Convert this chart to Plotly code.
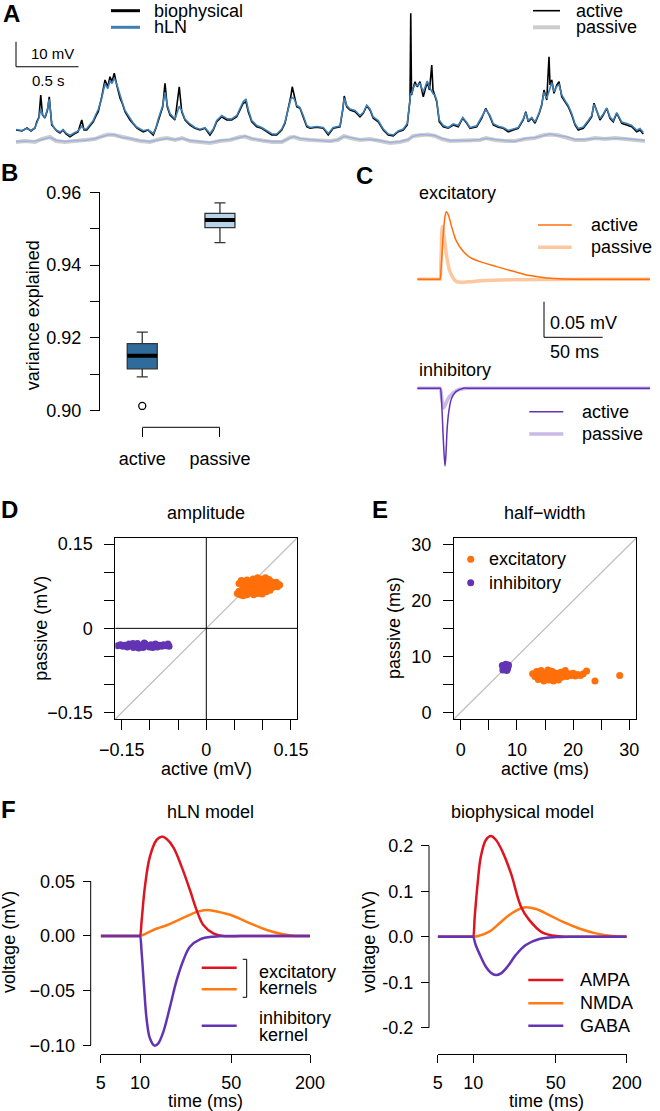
import math
import plotly.graph_objects as go

W, H = 660, 1111
FONT = "Liberation Sans, Arial, Helvetica, sans-serif"


def px(x):
    return x / W


def py(y):
    return 1 - y / H


# ---------------- Panel A : voltage traces (t in s, v in mV) ----------------
a_time = [
    0.000, 0.048, 0.088, 0.120, 0.152, 0.166, 0.184, 0.198, 0.212, 0.232,
    0.252, 0.266, 0.286, 0.304, 0.326, 0.352, 0.376, 0.400, 0.432, 0.464,
    0.496, 0.526, 0.544, 0.566, 0.592, 0.618, 0.640, 0.658, 0.686, 0.712,
    0.734, 0.752, 0.768, 0.786, 0.806, 0.832, 0.852, 0.872, 0.912, 0.936,
    0.966, 0.992, 1.018, 1.056, 1.098, 1.120, 1.138, 1.174, 1.192, 1.210,
    1.232, 1.272, 1.306, 1.326, 1.352, 1.392, 1.432, 1.472, 1.512, 1.552,
    1.578, 1.606, 1.646, 1.686, 1.726, 1.766, 1.792, 1.818, 1.840, 1.858,
    1.886, 1.926, 1.966, 2.006, 2.046, 2.086, 2.126, 2.152, 2.178, 2.198,
    2.210, 2.224, 2.246, 2.272, 2.298, 2.326, 2.352, 2.406, 2.458, 2.498,
    2.538, 2.592, 2.614, 2.626, 2.646, 2.672, 2.712, 2.752, 2.778, 2.806,
    2.832, 2.858, 2.898, 2.938, 2.978, 3.018, 3.058, 3.098, 3.130, 3.152,
    3.158, 3.164, 3.174, 3.192, 3.210, 3.232, 3.258, 3.290, 3.308, 3.326,
    3.336, 3.352, 3.366, 3.386, 3.418, 3.458, 3.498, 3.538, 3.574, 3.606,
    3.632, 3.686, 3.726, 3.758, 3.792, 3.818, 3.858, 3.898, 3.938, 3.978,
    4.018, 4.058, 4.078, 4.098, 4.126, 4.152, 4.186, 4.206, 4.224, 4.246,
    4.264, 4.272, 4.286, 4.304, 4.326, 4.344, 4.366, 4.392, 4.418, 4.446,
    4.472, 4.498, 4.538, 4.578, 4.606, 4.624, 4.646, 4.672, 4.698, 4.726,
    4.752, 4.778, 4.806, 4.846, 4.886, 4.926, 4.966, 4.992, 5.018,
]
a_bio_active = [
    6.0, 5.6, 6.8, 5.6, 6.8, 9.3, 11.2, 20.0, 12.0, 10.8,
    14.0, 19.3, 8.0, 6.8, 5.6, 4.8, 6.0, 4.4, 3.3, 4.4,
    5.2, 10.0, 6.0, 6.0, 7.6, 9.3, 11.6, 13.3, 19.3, 26.0,
    23.3, 27.3, 25.3, 28.7, 24.0, 18.8, 16.4, 13.3, 10.0, 8.4,
    6.8, 6.0, 5.3, 6.0, 4.0, 6.8, 10.0, 15.3, 24.7, 15.3,
    12.0, 10.0, 23.3, 13.3, 10.0, 8.0, 6.7, 6.0, 6.7, 4.0,
    6.0, 9.3, 11.3, 10.0, 10.0, 11.3, 14.0, 16.7, 17.3, 13.3,
    9.3, 7.3, 6.7, 5.3, 4.0, 4.0, 6.0, 8.7, 14.0, 19.3,
    23.3, 20.0, 15.3, 14.7, 11.3, 7.3, 6.7, 7.1, 6.7, 4.0,
    6.7, 7.3, 14.0, 19.6, 15.3, 14.0, 13.3, 11.3, 12.7, 15.6,
    14.0, 10.7, 9.3, 6.0, 4.0, 3.6, 5.3, 6.0, 8.0, 18.0,
    52.7, 20.0, 22.0, 25.3, 23.3, 25.3, 19.3, 25.2, 22.0, 32.0,
    22.0, 19.3, 17.3, 9.3, 7.3, 6.7, 8.0, 7.3, 10.7, 8.7,
    6.7, 7.3, 10.7, 14.7, 11.3, 8.0, 7.1, 6.7, 5.3, 6.0,
    6.7, 10.0, 13.3, 9.3, 10.7, 8.7, 12.7, 16.0, 22.0, 18.0,
    35.3, 24.0, 26.0, 20.7, 24.0, 25.3, 19.3, 17.3, 15.3, 12.0,
    8.0, 6.0, 6.7, 9.3, 11.3, 16.7, 13.3, 10.0, 12.0, 14.7,
    10.7, 9.3, 12.7, 8.7, 8.0, 7.3, 5.3, 6.0, 4.4,
]
a_hln_active = [
    6.2, 5.8, 6.6, 5.8, 6.9, 9.0, 11.0, 14.5, 12.3, 11.0,
    14.5, 18.3, 8.6, 7.0, 5.9, 5.2, 6.2, 4.8, 3.8, 4.8,
    5.6, 7.5, 6.4, 6.5, 8.0, 9.8, 12.4, 14.2, 18.8, 24.6,
    22.5, 25.8, 24.6, 26.8, 24.4, 19.5, 16.8, 13.8, 10.6, 8.9,
    7.2, 6.4, 5.7, 6.2, 4.6, 7.0, 10.4, 15.8, 21.0, 16.0,
    12.6, 10.4, 15.5, 13.8, 10.4, 8.4, 7.0, 6.3, 6.9, 4.6,
    6.4, 9.8, 11.8, 10.6, 10.4, 11.8, 14.6, 17.4, 18.4, 14.2,
    9.8, 7.8, 7.0, 5.7, 4.5, 4.4, 6.4, 9.2, 14.6, 18.4,
    19.0, 18.6, 15.8, 15.0, 11.8, 7.8, 7.0, 7.4, 7.0, 4.6,
    7.0, 7.6, 14.4, 18.8, 15.8, 14.4, 13.8, 11.8, 13.0, 15.9,
    14.4, 11.2, 9.8, 6.4, 4.4, 4.0, 5.6, 6.4, 8.6, 17.4,
    20.8, 20.4, 22.4, 24.2, 23.8, 24.6, 21.2, 25.6, 23.0, 21.5,
    20.6, 19.8, 17.8, 10.0, 7.8, 7.0, 8.4, 7.8, 11.0, 9.0,
    7.0, 7.7, 11.0, 14.2, 11.8, 8.5, 7.5, 7.0, 5.8, 6.4,
    7.0, 10.4, 13.0, 9.8, 11.0, 9.2, 13.0, 16.4, 21.0, 18.6,
    22.0, 22.8, 25.0, 21.4, 23.4, 24.2, 20.0, 17.8, 15.8, 12.6,
    8.5, 6.6, 7.2, 9.8, 11.8, 16.2, 13.8, 10.6, 12.4, 14.8,
    11.2, 9.8, 13.0, 9.2, 8.6, 7.8, 5.9, 6.6, 5.0,
]
a_pass_time = [
    0.000, 0.072, 0.152, 0.208, 0.272, 0.320, 0.392, 0.472, 0.552, 0.632,
    0.696, 0.736, 0.784, 0.848, 0.912, 0.992, 1.072, 1.152, 1.208, 1.272,
    1.328, 1.392, 1.472, 1.552, 1.632, 1.712, 1.792, 1.832, 1.888, 1.968,
    2.048, 2.128, 2.192, 2.224, 2.272, 2.352, 2.432, 2.512, 2.576, 2.624,
    2.672, 2.752, 2.832, 2.912, 2.992, 3.072, 3.136, 3.176, 3.232, 3.296,
    3.352, 3.408, 3.472, 3.552, 3.632, 3.712, 3.760, 3.832, 3.912, 3.992,
    4.072, 4.152, 4.224, 4.272, 4.328, 4.400, 4.472, 4.552, 4.632, 4.712,
    4.792, 4.872, 4.952, 5.032,
]
a_bio_passive = [
    1.2, 1.6, 1.2, 2.4, 3.2, 1.6, 1.2, 1.6, 2.0, 2.4,
    3.6, 4.2, 4.0, 3.2, 2.4, 1.6, 1.2, 2.4, 2.8, 2.0,
    2.8, 1.6, 1.2, 0.8, 1.6, 2.0, 3.2, 3.4, 2.4, 1.6,
    1.2, 1.2, 3.0, 3.2, 2.4, 2.0, 1.6, 1.6, 2.0, 3.6,
    2.8, 2.0, 2.4, 1.6, 0.8, 1.2, 2.0, 3.6, 4.0, 4.2,
    3.6, 2.4, 1.6, 1.6, 2.0, 2.0, 2.8, 2.0, 1.6, 1.6,
    2.4, 2.8, 4.0, 4.2, 4.0, 3.2, 2.0, 2.0, 2.8, 2.4,
    2.8, 2.4, 2.0, 1.6,
]
a_hln_passive = [
    1.4, 1.4, 1.6, 2.2, 3.0, 1.9, 1.4, 1.8, 1.8, 2.6,
    3.3, 4.0, 4.2, 3.0, 2.6, 1.8, 1.4, 2.2, 2.6, 2.2,
    2.6, 1.8, 1.4, 1.0, 1.8, 2.2, 3.0, 3.6, 2.6, 1.8,
    1.4, 1.4, 2.8, 3.4, 2.6, 2.2, 1.8, 1.4, 2.2, 3.4,
    3.0, 2.2, 2.2, 1.8, 1.0, 1.4, 2.2, 3.4, 4.2, 4.0,
    3.8, 2.6, 1.8, 1.8, 1.8, 2.2, 2.6, 2.2, 1.8, 1.4,
    2.6, 3.0, 3.8, 4.4, 3.8, 3.4, 2.2, 2.2, 2.6, 2.6,
    2.6, 2.6, 2.2, 1.8,
]
a_scale_time = 0.5   # s
a_scale_volt = 10.0  # mV

# ---------------- Panel B : variance explained ----------------
b_labels = ["active", "passive"]
b_pos = [1, 2]
b_lowerfence = [0.9093, 0.9462]
b_q1 = [0.9115, 0.9503]
b_median = [0.9151, 0.9524]
b_q3 = [0.9184, 0.9542]
b_upperfence = [0.9216, 0.9571]
b_outliers_active = [0.9013]

# ---------------- Panel C : PSP shapes (t in ms, v in mV) ----------------
c_exc_active_t = [-19.3, -0.3, 0, 1.42, 2.84, 4.26, 5.4, 7.1, 9.9, 14.2, 19.9, 25.6, 34.1,
                  48.3, 62.5, 76.7, 90.9, 105.0, 133.4, 178.9]
c_exc_active_v = [0, 0, 0, 0.0272, 0.0646, 0.088, 0.095, 0.0904, 0.074, 0.0529, 0.0389,
                  0.0309, 0.0248, 0.0178, 0.0112, 0.0052, 0.0019, 0.0005, 0, 0]
c_exc_passive_t = [-19.3, -0.3, 0, 0.85, 1.99, 3.4, 5.7, 8.5, 11.4, 14.2, 19.9, 28.4, 42.6,
                   62.5, 178.9]
c_exc_passive_v = [0, 0, 0, 0.0272, 0.074, 0.0613, 0.0318, 0.0108, 0.0014, -0.0033,
                   -0.0040, -0.0030, -0.0014, -0.0005, 0]
c_inh_active_t = [-19.3, 0.0, 0.3, 1.7, 2.84, 4.26, 5.1, 6.2, 7.7, 9.9, 13.6, 19.9, 25.0, 178.9]
c_inh_active_v = [0, 0, 0, -0.0304, -0.0726, -0.109, -0.0913, -0.0538, -0.0304, -0.014,
                  -0.0047, 0, 0, 0]
c_inh_passive_t = [-19.3, 0.0, 0.3, 1.7, 3.1, 4.5, 7.1, 11.4, 17.0, 22.7, 28.0, 178.9]
c_inh_passive_v = [0, 0, 0, -0.0164, -0.028, -0.0234, -0.014, -0.006, -0.0014, 0, 0, 0]
c_scale_ms = 50
c_scale_mv = 0.05

# ---------------- Panel D : amplitude (mV) ----------------
d_exc_active = [0.055, 0.058, 0.060, 0.062, 0.064, 0.066, 0.068, 0.069, 0.070, 0.072,
                0.073, 0.075, 0.076, 0.078, 0.079, 0.080, 0.082, 0.083, 0.084, 0.086,
                0.087, 0.088, 0.090, 0.091, 0.092, 0.094, 0.095, 0.096, 0.098, 0.099,
                0.100, 0.102, 0.103, 0.105, 0.106, 0.108, 0.110, 0.111, 0.113, 0.115,
                0.116, 0.118, 0.120, 0.122, 0.124, 0.126, 0.128, 0.130, 0.072, 0.065,
                0.058, 0.062]
d_exc_passive = [0.062, 0.066, 0.060, 0.064, 0.070, 0.062, 0.075, 0.080, 0.066, 0.060,
                 0.071, 0.078, 0.084, 0.063, 0.069, 0.074, 0.081, 0.088, 0.060, 0.066,
                 0.072, 0.078, 0.085, 0.090, 0.062, 0.068, 0.075, 0.082, 0.088, 0.061,
                 0.070, 0.077, 0.084, 0.090, 0.065, 0.072, 0.080, 0.087, 0.068, 0.076,
                 0.083, 0.073, 0.080, 0.076, 0.082, 0.074, 0.078, 0.077, 0.086, 0.058,
                 0.080, 0.085]
d_inh_active = [-0.157, -0.152, -0.148, -0.144, -0.140, -0.137, -0.133, -0.129, -0.126,
                -0.122, -0.119, -0.115, -0.112, -0.108, -0.105, -0.101, -0.098, -0.094,
                -0.090, -0.087, -0.083, -0.079, -0.076, -0.072, -0.068, -0.066, -0.110,
                -0.130, -0.095, -0.120]
d_inh_passive = [-0.031, -0.029, -0.032, -0.030, -0.033, -0.028, -0.031, -0.034, -0.029,
                 -0.027, -0.032, -0.030, -0.034, -0.028, -0.031, -0.033, -0.029, -0.031,
                 -0.028, -0.033, -0.030, -0.032, -0.029, -0.031, -0.028, -0.032, -0.026,
                 -0.027, -0.034, -0.035]

# ---------------- Panel E : half-width (ms) ----------------
e_exc_active = [12.8, 13.2, 13.5, 13.8, 14.0, 14.3, 14.5, 14.8, 15.0, 15.2,
                15.5, 15.7, 15.9, 16.1, 16.3, 16.5, 16.7, 17.0, 17.2, 17.5,
                17.8, 18.0, 18.3, 18.6, 18.9, 19.2, 19.6, 20.0, 20.4, 20.8,
                21.3, 21.8, 22.4, 23.9, 28.3, 14.2, 15.6, 16.0, 17.4, 13.6]
e_exc_passive = [6.9, 6.4, 7.3, 5.9, 6.7, 7.5, 6.1, 5.6, 7.0, 6.4,
                 7.6, 5.8, 6.8, 6.2, 7.3, 5.6, 6.6, 7.0, 6.0, 6.5,
                 7.2, 6.3, 6.8, 7.5, 6.4, 6.9, 6.6, 7.0, 6.5, 6.8,
                 6.6, 6.9, 7.4, 5.6, 6.6, 6.3, 6.9, 7.4, 5.8, 6.6]
e_inh_active = [7.5, 7.7, 7.9, 8.1, 8.3, 8.4, 7.6, 8.0, 8.2, 7.8, 8.5, 7.4]
e_inh_passive = [7.6, 8.3, 7.8, 8.4, 7.7, 8.1, 8.0, 8.6, 7.5, 8.2, 8.5, 8.4]

# ---------------- Panel F : kernels (t in ms, v in mV) ----------------
f_hln_exc1_t = [5, 9.9, 10, 10.3, 10.9, 11.9, 13.4, 14.65, 16.0, 18.0, 20.8, 24.1, 27.2,
                30.5, 36.4, 43.4, 60, 100, 200]
f_hln_exc1_v = [0, 0, 0, 0.0146, 0.0451, 0.0725, 0.0878, 0.0908, 0.0887, 0.0810, 0.0634,
                0.0420, 0.0232, 0.0100, 0.0024, 0.0, 0, 0, 0]
f_hln_exc2_t = [5, 9.9, 10, 11.0, 11.9, 13.5, 16.0, 18.5, 21.5, 24.5, 27.2, 32.4, 38.6,
                51.8, 69.5, 93.3, 125, 149, 200]
f_hln_exc2_v = [0, 0, 0, 0.0020, 0.0040, 0.0068, 0.0098, 0.0132, 0.0167, 0.0198, 0.0220,
                0.0238, 0.0223, 0.0183, 0.0116, 0.0055, 0.0015, 0.0003, 0]
f_hln_inh_t = [5, 9.9, 10, 10.3, 10.73, 11.25, 11.9, 12.9, 13.8, 15.1, 16.97, 19.1, 21.5,
               24.1, 28.8, 36.4, 51.8, 100, 200]
f_hln_inh_v = [0, 0, 0, -0.0158, -0.0463, -0.0768, -0.0935, -0.1002, -0.0981, -0.0874,
               -0.0646, -0.0402, -0.0219, -0.0098, -0.0030, -0.0006, 0, 0, 0]
f_ampa_t = [5, 9.9, 10, 10.3, 10.9, 11.6, 12.8, 14.1, 15.6, 17.7, 20.9, 25.4, 29.8, 38.7,
            53.5, 100, 200]
f_ampa_v = [0, 0, 0, 0.044, 0.117, 0.176, 0.2125, 0.2213, 0.2125, 0.187, 0.139, 0.066,
            0.037, 0.009, 0.001, 0, 0]
f_nmda_t = [5, 9.9, 10, 11.2, 13.7, 16.6, 20.2, 24.5, 27.9, 34.0, 44.1, 57.1, 79.1, 109.5,
            151.6, 200]
f_nmda_v = [0, 0, 0, 0.0022, 0.011, 0.029, 0.0476, 0.0608, 0.0645, 0.0608, 0.0476, 0.033,
            0.018, 0.0073, 0.0015, 0]
f_gaba_t = [5, 9.9, 10, 10.5, 11.6, 12.8, 14.1, 15.6, 17.2, 19.5, 23.0, 27.9, 36.3, 50.2,
            79.1, 200]
f_gaba_v = [0, 0, 0, -0.0183, -0.044, -0.066, -0.079, -0.0842, -0.0806, -0.066, -0.040,
            -0.0183, -0.005, -0.0007, 0, 0]
f_time_ticks = [5, 10, 50, 200]

# ---------------- colours ----------------
BLACK = "#000000"
HLN_BLUE = "#3f7fb4"
PASS_GRAY = "#cdcdcd"
PASS_BLUE = "#9fb1de"
ORANGE = "#ff6f0a"
ORANGE_LIGHT = "#fdc7a0"
PURPLE = "#6234b3"
PURPLE_LIGHT = "#cab8e6"
RED = "#de1520"
F_ORANGE = "#ff7a12"
BOX_ACTIVE = "#2f6b9b"
BOX_PASSIVE = "#b9d4ea"
DIAG = "#bfbfbf"

fig = go.Figure()
shapes = []
annots = []


def txt(x, y, s, size=18, xa="center", ya="middle", angle=0, bold=False):
    annots.append(dict(
        x=px(x), y=py(y), xref="paper", yref="paper",
        text=f"<b>{s}</b>" if bold else s, showarrow=False,
        xanchor=xa, yanchor=ya, textangle=angle,
        font=dict(size=size, family=FONT, color="black")))


def pline(x0, y0, x1, y1, color="black", width=1.0):
    shapes.append(dict(type="line", xref="paper", yref="paper",
                       x0=px(x0), y0=py(y0), x1=px(x1), y1=py(y1),
                       line=dict(color=color, width=width)))


def line_trace(x, y, color, width, xa, ya, shape="linear"):
    fig.add_trace(go.Scatter(x=x, y=y, mode="lines", xaxis=xa, yaxis=ya,
                             line=dict(color=color, width=width, shape=shape),
                             showlegend=False, hoverinfo="skip"))


def dot_trace(x, y, color, xa, ya, size=7):
    fig.add_trace(go.Scatter(x=x, y=y, mode="markers", xaxis=xa, yaxis=ya,
                             marker=dict(color=color, size=size, line=dict(width=0)),
                             showlegend=False, hoverinfo="skip"))


def axis_common(**kw):
    d = dict(showgrid=False, zeroline=False, ticks="outside", tickcolor="black",
             tickwidth=1, linecolor="black", linewidth=1, automargin=False,
             tickfont=dict(size=18, family=FONT, color="black"))
    d.update(kw)
    return d


hidden = dict(visible=False, showgrid=False, zeroline=False, automargin=False)

# ---------------- Panel A ----------------
line_trace(a_pass_time, a_bio_passive, PASS_GRAY, 4, "x", "y")
line_trace(a_pass_time, a_hln_passive, PASS_BLUE, 1.4, "x", "y")
line_trace(a_time, a_bio_active, BLACK, 1.6, "x", "y")
line_trace(a_time, a_hln_active, HLN_BLUE, 1.6, "x", "y")
shapes.append(dict(type="line", xref="x", yref="y", x0=0, x1=0, y0=31.3,
                   y1=31.3 + a_scale_volt, line=dict(color="black", width=1)))
shapes.append(dict(type="line", xref="x", yref="y", x0=0, x1=a_scale_time,
                   y0=31.3, y1=31.3, line=dict(color="black", width=1)))
txt(28.5, 53.3, "10 mV", size=15, xa="left")
txt(48.6, 81, "0.5 s", size=15)
pline(111, 10.7, 140, 10.7, BLACK, 3)
pline(111, 27.3, 140, 27.3, HLN_BLUE, 3)
txt(152, 10.7, "biophysical", xa="left")
txt(152, 27.3, "hLN", xa="left")
pline(533, 10.7, 560, 10.7, BLACK, 1.6)
pline(533, 27.3, 560, 27.3, PASS_GRAY, 4)
txt(574, 10.7, "active", xa="left")
txt(574, 27.3, "passive", xa="left")
txt(11.5, 14, "A", size=24, bold=True)

# ---------------- Panel B ----------------
b_fill = [BOX_ACTIVE, BOX_PASSIVE]
b_width = 0.386
for i in range(2):
    fig.add_trace(go.Box(
        x=[b_pos[i]], q1=[b_q1[i]], median=[b_median[i]], q3=[b_q3[i]],
        lowerfence=[b_lowerfence[i]], upperfence=[b_upperfence[i]],
        width=b_width, whiskerwidth=0.37, fillcolor=b_fill[i],
        line=dict(color="#333333", width=1.3), boxpoints=False,
        xaxis="x2", yaxis="y2", showlegend=False, hoverinfo="skip"))
    line_trace([b_pos[i] - b_width / 2, b_pos[i] + b_width / 2],
               [b_median[i], b_median[i]], BLACK, 4, "x2", "y2")
fig.add_trace(go.Scatter(x=[b_pos[0]] * len(b_outliers_active), y=b_outliers_active,
                         mode="markers", xaxis="x2", yaxis="y2",
                         marker=dict(symbol="circle-open", size=7, color="black",
                                     line=dict(width=1.3)),
                         showlegend=False, hoverinfo="skip"))
shapes.append(dict(type="line", xref="x2", yref="paper", x0=b_pos[0], x1=b_pos[1],
                   y0=py(427.3), y1=py(427.3), line=dict(color="black", width=1)))
txt(33.3, 315, "variance explained", angle=-90)
txt(9, 173, "B", size=24, bold=True)

# ---------------- Panel C ----------------
line_trace(c_exc_passive_t, c_exc_passive_v, ORANGE_LIGHT, 3.5, "x3", "y3", "spline")
line_trace(c_exc_active_t, c_exc_active_v, ORANGE, 1.5, "x3", "y3", "spline")
line_trace(c_inh_passive_t, c_inh_passive_v, PURPLE_LIGHT, 3.5, "x4", "y4", "spline")
line_trace(c_inh_active_t, c_inh_active_v, PURPLE, 1.5, "x4", "y4", "spline")
sb_x0, sb_y0 = 88.6, -0.0815
shapes.append(dict(type="line", xref="x3", yref="y3", x0=sb_x0, x1=sb_x0, y0=sb_y0,
                   y1=sb_y0 + c_scale_mv, line=dict(color="black", width=1)))
shapes.append(dict(type="line", xref="x3", yref="y3", x0=sb_x0, x1=sb_x0 + c_scale_ms,
                   y0=sb_y0, y1=sb_y0, line=dict(color="black", width=1)))
txt(548, 322.7, "0.05 mV", xa="left")
txt(548, 351.7, "50 ms", xa="left")
txt(416.7, 193.3, "excitatory", xa="left")
txt(416.7, 370, "inhibitory", xa="left")
pline(538, 225, 571.7, 225, ORANGE, 1.5)
pline(538, 247.3, 571.7, 247.3, ORANGE_LIGHT, 3.5)
txt(589.3, 225, "active", xa="left")
txt(589.3, 247.3, "passive", xa="left")
pline(529.3, 411.7, 563.3, 411.7, PURPLE, 1.5)
pline(529.3, 434, 563.3, 434, PURPLE_LIGHT, 3.5)
txt(580, 411.7, "active", xa="left")
txt(580, 434, "passive", xa="left")
txt(365, 175, "C", size=24, bold=True)

# ---------------- Panel D ----------------
for (ax, ay) in [("x5", "y5"), ("x6", "y6")]:
    shapes.append(dict(type="line", xref=ax + " domain", yref=ay + " domain",
                       x0=0, y0=0, x1=1, y1=1, layer="below",
                       line=dict(color=DIAG, width=1.2)))
shapes.append(dict(type="line", xref="x5 domain", yref="y5", x0=0, x1=1, y0=0, y1=0,
                   layer="below", line=dict(color="black", width=1)))
shapes.append(dict(type="line", xref="x5", yref="y5 domain", x0=0, x1=0, y0=0, y1=1,
                   layer="below", line=dict(color="black", width=1)))
dot_trace(d_exc_active, d_exc_passive, ORANGE, "x5", "y5")
dot_trace(d_inh_active, d_inh_passive, PURPLE, "x5", "y5")
txt(206.3, 513.3, "amplitude")
txt(206.7, 769.3, "active (mV)")
txt(40.7, 628, "passive (mV)", angle=-90)
txt(9, 510, "D", size=24, bold=True)

# ---------------- Panel E ----------------
dot_trace(e_exc_active, e_exc_passive, ORANGE, "x6", "y6")
dot_trace(e_inh_active, e_inh_passive, PURPLE, "x6", "y6")
txt(545, 513.3, "half\u2212width")
txt(545, 769.3, "active (ms)")
txt(394, 628, "passive (ms)", angle=-90)
txt(379.7, 510, "E", size=24, bold=True)
for yy, col, lab in [(559.3, ORANGE, "excitatory"), (582.7, PURPLE, "inhibitory")]:
    shapes.append(dict(type="circle", xref="paper", yref="paper",
                       x0=px(470.7 - 3.5), x1=px(470.7 + 3.5),
                       y0=py(yy + 3.5), y1=py(yy - 3.5),
                       fillcolor=col, line=dict(width=0)))
    txt(487.3, yy, lab, xa="left")

# ---------------- Panel F ----------------
line_trace(f_hln_exc2_t, f_hln_exc2_v, F_ORANGE, 2.5, "x7", "y7", "spline")
line_trace(f_hln_exc1_t, f_hln_exc1_v, RED, 2.5, "x7", "y7", "spline")
line_trace(f_hln_inh_t, f_hln_inh_v, PURPLE, 2.5, "x7", "y7", "spline")
line_trace(f_nmda_t, f_nmda_v, F_ORANGE, 2.5, "x8", "y8", "spline")
line_trace(f_ampa_t, f_ampa_v, RED, 2.5, "x8", "y8", "spline")
line_trace(f_gaba_t, f_gaba_v, PURPLE, 2.5, "x8", "y8", "spline")
shapes.append(dict(type="line", xref="paper", yref="y7", x0=px(90.7), x1=px(90.7),
                   y0=-0.10, y1=0.05, line=dict(color="black", width=1)))
shapes.append(dict(type="line", xref="paper", yref="y8", x0=px(429), x1=px(429),
                   y0=-0.2, y1=0.2, line=dict(color="black", width=1)))
txt(210.3, 811.7, "hLN model")
txt(522.5, 811.7, "biophysical model")
txt(205.5, 1100.7, "time (ms)")
txt(546.7, 1100.7, "time (ms)")
txt(9.2, 941.7, "voltage (mV)", angle=-90)
txt(369, 941.7, "voltage (mV)", angle=-90)
txt(8.3, 809, "F", size=24, bold=True)
pline(201.7, 967.7, 236.7, 967.7, RED, 2.5)
pline(201.7, 989.3, 236.7, 989.3, F_ORANGE, 2.5)
pline(201.7, 1025.7, 236.7, 1025.7, PURPLE, 2.5)
pline(246.7, 959.3, 246.7, 997.3, "black", 1)
pline(242.7, 959.3, 246.7, 959.3, "black", 1)
pline(242.7, 997.3, 246.7, 997.3, "black", 1)
txt(256.7, 971.7, "excitatory", xa="left")
txt(256.7, 988.3, "kernels", xa="left")
txt(256.7, 1018.3, "inhibitory", xa="left")
txt(256.7, 1035, "kernel", xa="left")
for yy, col, lab in [(980, RED, "AMPA"), (1003.3, F_ORANGE, "NMDA"), (1025.7, PURPLE, "GABA")]:
    pline(528.3, yy, 563.3, yy, col, 2.5)
    txt(578.3, yy, lab, xa="left")

# ---------------- Layout ----------------
lg5, lg200 = math.log10(5), math.log10(200)
layout = dict(
    template="none",
    width=W, height=H, autosize=False,
    margin=dict(l=0, r=0, t=0, b=0, pad=0, autoexpand=False),
    paper_bgcolor="white", plot_bgcolor="white",
    font=dict(family=FONT, size=18, color="black"),
    showlegend=False,
    shapes=shapes, annotations=annots,
    xaxis=dict(domain=[px(14), px(645)], range=[-0.016, 5.032], anchor="y", **hidden),
    yaxis=dict(domain=[py(150), py(8)], range=[-2.0, 54.8], anchor="x", **hidden),
    xaxis2=axis_common(domain=[px(103.4), px(258.8)], range=[0.5, 2.5], anchor="free",
                       position=py(427.3), tickvals=b_pos, ticktext=b_labels, ticklen=9,
                       showline=False, ticklabelstandoff=6),
    yaxis2=axis_common(domain=[py(410.7), py(192.3)], range=[0.90, 0.96], anchor="free",
                       position=px(99), tickvals=[0.90, 0.91, 0.92, 0.93, 0.94, 0.95, 0.96],
                       ticktext=["0.90", "", "0.92", "", "0.94", "", "0.96"], ticklen=9,
                       showline=True, ticklabelstandoff=5),
    xaxis3=dict(domain=[px(417), px(650)], range=[-19.6, 178.9], anchor="y3", **hidden),
    yaxis3=dict(domain=[py(345), py(200)], range=[-0.0923, 0.1114], anchor="x3", **hidden),
    xaxis4=dict(domain=[px(417), px(650)], range=[-19.6, 178.9], anchor="y4", **hidden),
    yaxis4=dict(domain=[py(475), py(370)], range=[-0.1218, 0.0257], anchor="x4", **hidden),
    xaxis5=axis_common(domain=[px(115.3), px(297.3)], range=[-0.1613, 0.1613], anchor="y5",
                       showline=True, mirror=True, ticklen=10,
                       tickvals=[-0.15, -0.1, -0.05, 0, 0.05, 0.1, 0.15],
                       ticktext=["\u22120.15", "", "", "0", "", "", "0.15"],
                       ticklabelstandoff=4),
    yaxis5=axis_common(domain=[py(719), py(537.7)], range=[-0.1613, 0.1613], anchor="x5",
                       showline=True, mirror=True, ticklen=10,
                       tickvals=[-0.15, -0.1, -0.05, 0, 0.05, 0.1, 0.15],
                       ticktext=["\u22120.15", "", "", "0", "", "", "0.15"],
                       ticklabelstandoff=8),
    xaxis6=axis_common(domain=[px(454), px(636)], range=[-1.2, 31.2], anchor="y6",
                       showline=True, mirror=True, ticklen=10,
                       tickvals=[0, 5, 10, 15, 20, 25, 30],
                       ticktext=["0", "", "10", "", "20", "", "30"], ticklabelstandoff=4),
    yaxis6=axis_common(domain=[py(719), py(538.3)], range=[-1.2, 31.2], anchor="x6",
                       showline=True, mirror=True, ticklen=10,
                       tickvals=[0, 5, 10, 15, 20, 25, 30],
                       ticktext=["0", "", "10", "", "20", "", "30"], ticklabelstandoff=8),
    xaxis7=axis_common(type="log", domain=[px(100.7), px(310)], range=[lg5, lg200],
                       anchor="free", position=py(1054), tickvals=f_time_ticks,
                       ticktext=[str(v) for v in f_time_ticks], ticklen=8, showline=True,
                       ticklabelstandoff=4),
    yaxis7=axis_common(domain=[py(1050), py(820)], range=[-0.1042, 0.1060], anchor="free",
                       position=px(90.7), tickvals=[-0.10, -0.05, 0, 0.05],
                       ticktext=["\u22120.10", "\u22120.05", "0.00", "0.05"], ticklen=8,
                       showline=False, ticklabelstandoff=4),
    xaxis8=axis_common(type="log", domain=[px(437.7), px(626.7)], range=[lg5, lg200],
                       anchor="free", position=py(1054), tickvals=f_time_ticks,
                       ticktext=[str(v) for v in f_time_ticks], ticklen=8, showline=True,
                       ticklabelstandoff=4),
    yaxis8=axis_common(domain=[py(1050), py(820)], range=[-0.249, 0.2565], anchor="free",
                       position=px(429), tickvals=[-0.2, -0.1, 0, 0.1, 0.2],
                       ticktext=["-0.2", "-0.1", "0.0", "0.1", "0.2"], ticklen=8,
                       showline=False, ticklabelstandoff=4),
)
fig.update_layout(**layout)
fig.write_html("out.html",
               config={"displayModeBar": False, "staticPlot": True},
               post_script="document.body.style.margin='0px';"
                           "document.body.style.padding='0px';")
